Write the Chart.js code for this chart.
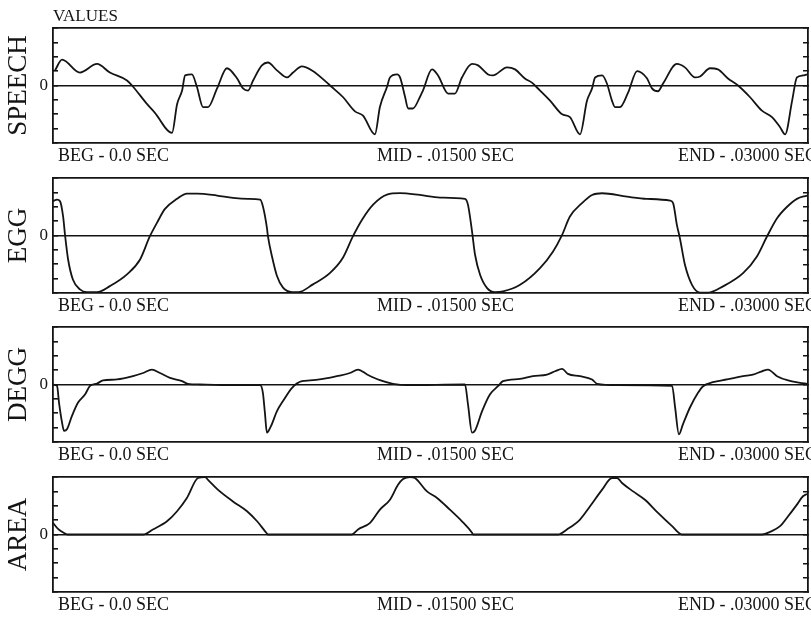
<!DOCTYPE html>
<html>
<head>
<meta charset="utf-8">
<title>SPEECH / EGG / DEGG / AREA</title>
<script src="https://cdn.jsdelivr.net/npm/chart.js@4.4.1/dist/chart.umd.min.js"></script>
<style>
  html, body { margin: 0; background: #fff; overflow: hidden; }
  #wrap { position: relative; width: 811px; height: 617px; }
  #wrap canvas { position: absolute; left: 0; }
</style>
</head>
<body>
<div id="wrap">
  <canvas id="speech" width="811" height="170" style="top:0"></canvas>
  <canvas id="egg" width="811" height="170" style="top:150px"></canvas>
  <canvas id="degg" width="811" height="170" style="top:299px"></canvas>
  <canvas id="area" width="811" height="170" style="top:449px"></canvas>
</div>
<script>
// time in ms (0 .. 30 ms = BEG .. END), amplitude in axis units (-4 .. 4)
const speechT = [0.08,0.36,1.07,1.75,2.26,2.94,3.14,3.74,4.05,4.73,
  4.93,5.13,5.25,5.52,5.72,5.96,6.16,6.52,6.91,7.31,
  7.55,7.75,7.95,8.30,8.54,8.90,9.30,9.54,9.89,10.29,
  10.89,11.01,11.52,12.00,12.32,12.79,12.99,13.27,13.39,13.67,
  13.79,13.99,14.11,14.30,14.58,14.70,15.06,15.30,15.70,15.97,
  16.25,16.65,16.89,17.29,17.48,18.04,18.36,18.75,19.03,19.23,
  19.75,20.23,20.54,20.94,21.22,21.42,21.54,21.82,22.01,22.21,
  22.33,22.53,22.85,23.21,23.60,23.80,24.04,24.24,24.79,25.11,
  25.51,25.71,26.11,26.42,26.82,27.22,27.69,28.17,28.57,28.89,
  29.09,29.37,29.56,29.80,29.96];
const speechV = [1.05,1.8,0.9,1.5,0.9,0.35,0,-1.3,-1.9,-3.3,
  -1.3,-0.35,0.7,0.77,-0.1,-1.5,-1.5,-0.2,1.2,0.5,
  -0.2,-0.35,0.35,1.4,1.6,1.05,0.56,0.9,1.33,1.05,
  0.2,0,-0.8,-1.8,-2.1,-3.4,-1.5,-0.1,0.56,0.77,
  0.56,-0.8,-1.6,-1.6,-0.8,-0.35,1.12,0.7,-0.56,-0.56,
  0.56,1.5,1.4,0.77,0.7,1.26,1.12,0.49,0.2,-0.14,
  -1.05,-2.0,-2.2,-3.4,-1.05,-0.2,0.56,0.7,0.14,-1.05,
  -1.5,-1.5,-0.5,1.0,0.5,-0.2,-0.4,0.14,1.5,1.26,
  0.56,0.63,1.2,1.12,0.49,0,-0.8,-1.75,-2.2,-2.9,
  -3.4,-1.05,0.56,0.7,0.77];

const eggT = [0,0.16,0.28,0.40,0.48,0.60,0.79,1.07,1.35,1.75,
  2.26,2.94,3.46,3.85,4.13,4.45,4.93,5.32,5.72,6.52,
  7.15,7.75,8.23,8.34,8.50,8.54,8.70,8.90,9.14,9.50,
  9.74,10.33,11.01,11.52,11.92,12.28,12.72,13.27,13.79,14.58,
  15.38,16.37,16.49,16.65,16.77,16.97,17.25,17.56,17.88,18.56,
  19.35,19.87,20.23,20.54,21.02,21.42,21.82,22.81,23.60,24.52,
  24.64,24.79,24.91,25.11,25.39,25.71,26.03,26.62,27.42,27.97,
  28.37,28.77,29.17,29.56,29.96];
const eggV = [2.38,2.5,2.38,1.34,0,-1.67,-3.06,-3.75,-3.94,-3.94,
  -3.52,-2.7,-1.67,-0.05,0.88,1.85,2.55,2.92,2.92,2.78,
  2.62,2.55,2.5,2.04,0.53,-0.05,-1.44,-2.82,-3.63,-3.94,
  -3.94,-3.4,-2.6,-1.55,-0.05,1.1,2.15,2.85,2.95,2.82,
  2.64,2.55,2.13,0.28,-1.34,-2.73,-3.66,-3.94,-3.89,-3.43,
  -2.27,-1.11,0.05,1.32,2.25,2.82,2.94,2.7,2.55,2.43,
  2.25,0.74,-0.19,-2.04,-3.43,-3.97,-3.97,-3.54,-2.62,-1.46,
  -0.07,1.2,2.0,2.55,2.78];

const deggT = [0,0.16,0.24,0.36,0.44,0.56,0.75,0.99,1.27,1.47,
  1.75,1.99,2.54,3.18,3.58,3.93,4.25,4.65,5.13,5.36,
  5.84,7.15,8.23,8.34,8.42,8.50,8.66,8.90,9.14,9.50,
  9.89,10.21,10.73,11.28,11.80,12.12,12.48,12.99,13.51,14.07,
  16.37,16.49,16.65,16.77,17.05,17.36,17.68,17.88,18.56,19.07,
  19.63,19.95,20.23,20.46,20.94,21.42,21.62,22.41,24.60,24.72,
  24.87,25.03,25.31,25.63,25.83,26.22,26.78,27.42,27.81,28.17,
  28.41,28.77,29.21,29.68,29.96];
const deggV = [0,-0.1,-1.27,-2.65,-3.23,-3.1,-2.2,-1.27,-0.7,-0.1,
  0.07,0.28,0.35,0.58,0.8,1.04,0.8,0.46,0.23,0.05,
  0,-0.05,-0.05,-0.58,-1.96,-3.35,-2.9,-1.85,-1.15,-0.23,
  0.23,0.28,0.39,0.58,0.8,1.04,0.7,0.3,0.05,-0.05,
  0,-1.39,-3.35,-3.2,-1.85,-0.69,-0.12,0.23,0.39,0.58,
  0.69,0.92,1.09,0.74,0.58,0.35,0.05,-0.05,-0.1,-1.6,
  -3.46,-2.77,-1.6,-0.58,-0.12,0.16,0.35,0.58,0.69,0.92,
  1.04,0.58,0.28,0.12,0.05];

const areaT = [0,0.20,0.48,0.56,3.58,3.97,4.53,4.93,5.32,5.76,
  6.04,6.16,6.56,7.15,7.71,8.11,8.50,8.54,11.88,12.12,
  12.60,12.99,13.39,13.71,13.91,14.19,14.38,14.86,15.26,15.77,
  16.25,16.65,16.69,20.07,20.42,20.94,21.34,21.82,22.21,22.41,
  22.61,23.05,23.52,24.04,24.60,24.99,28.17,28.49,28.89,29.21,
  29.56,29.80,29.96];
const areaV = [0.81,0.39,0.07,0,0,0.35,0.92,1.62,2.54,3.93,
  4.0,3.8,3.1,2.3,1.62,0.92,0.07,0,0,0.35,
  0.81,1.73,2.42,3.46,3.86,4.0,3.93,3.0,2.54,1.73,
  0.92,0.12,0,0,0.35,1.04,1.96,3.12,3.93,3.93,
  3.58,3.0,2.42,1.5,0.58,0,0,0.18,0.58,1.27,
  2.08,2.66,2.82];

const timeLabels = ['BEG - 0.0 SEC', 'MID - .01500 SEC', 'END - .03000 SEC'];
const timeLabelAt = [0.2, 12.87, 24.83];

const SERIF = "'Liberation Serif', 'Times New Roman', serif";
const INK = '#141414';

function panel(id, name, t, v, topTitle) {
  new Chart(document.getElementById(id), {
    type: 'line',
    data: {
      datasets: [{
        data: t.map((x, i) => ({ x: x, y: v[i] })),
        borderColor: INK,
        borderWidth: 1.8,
        pointRadius: 0,
        cubicInterpolationMode: 'monotone',
        clip: 2
      }]
    },
    options: {
      responsive: false,
      animation: false,
      events: [],
      layout: { padding: 0 },
      plugins: { legend: { display: false }, tooltip: { enabled: false } },
      scales: {
        x: {
          type: 'linear', min: 0, max: 30,
          afterBuildTicks: s => { s.ticks = timeLabelAt.map(value => ({ value })); },
          afterFit: s => { s.height = 27; s.paddingLeft = 0; s.paddingRight = 0; },
          ticks: {
            align: 'start', autoSkip: false, maxRotation: 0, padding: 2,
            color: INK, font: { family: SERIF, size: 18 },
            callback: (val, i) => timeLabels[i]
          },
          grid: { display: false, drawTicks: false },
          border: { color: INK, width: 1.8 }
        },
        xTop: {
          type: 'linear', position: 'top', min: 0, max: 30,
          afterFit: s => { s.height = 28; },
          ticks: { display: false },
          grid: { display: false, drawTicks: false },
          border: { color: INK, width: 1.8 },
          title: {
            display: !!topTitle, text: topTitle || '', align: 'start', color: INK,
            font: { family: SERIF, size: 17 }, padding: { top: 6, bottom: 0 }
          }
        },
        y: {
          min: -4, max: 4,
          afterFit: s => { s.width = 53; },
          ticks: {
            stepSize: 1, autoSkip: false, padding: 10, color: INK,
            font: { family: SERIF, size: 17 },
            callback: val => val === 0 ? '0' : ''
          },
          grid: {
            tickLength: -5, tickColor: INK, lineWidth: 1.6,
            color: c => (c.tick && c.tick.value === 0) ? INK : 'rgba(0,0,0,0)'
          },
          border: { color: INK, width: 1.8 },
          title: {
            display: true, text: name, color: INK,
            font: { family: SERIF, size: 27 }, padding: { top: 3, bottom: 0 }
          }
        },
        yRight: {
          position: 'right', min: -4, max: 4,
          afterFit: s => { s.width = 3; },
          ticks: { stepSize: 1, autoSkip: false, display: false },
          grid: { drawOnChartArea: false, tickLength: -5, tickColor: INK, lineWidth: 1.5 },
          border: { color: INK, width: 1.8 }
        }
      }
    }
  });
}

panel('speech', 'SPEECH', speechT, speechV, 'VALUES');
panel('egg', 'EGG', eggT, eggV);
panel('degg', 'DEGG', deggT, deggV);
panel('area', 'AREA', areaT, areaV);
</script>
</body>
</html>
